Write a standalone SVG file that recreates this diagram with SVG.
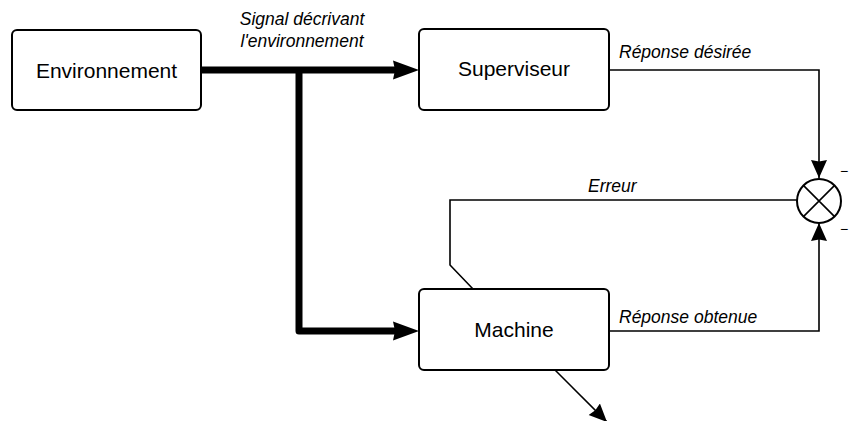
<svg xmlns="http://www.w3.org/2000/svg" width="849" height="421" viewBox="0 0 849 421">
  <style>
    .box { fill: #ffffff; stroke: #000000; stroke-width: 2; }
    .label { font-family: "Liberation Sans", Arial, sans-serif; font-size: 21px; fill: #000000; text-anchor: middle; }
    .note { font-family: "Liberation Sans", Arial, sans-serif; font-size: 17.5px; font-style: italic; fill: #000000; }
    .sign { font-family: "Liberation Sans", Arial, sans-serif; font-size: 14px; fill: #000000; }
    .thin { fill: none; stroke: #000000; stroke-width: 1.6; }
    .thick { fill: none; stroke: #000000; stroke-width: 7; stroke-linejoin: round; }
    .head { fill: #000000; stroke: none; }
  </style>
  <defs>
    <marker id="arrowThin" markerUnits="userSpaceOnUse" viewBox="0 0 18 18" refX="18" refY="9" markerWidth="18" markerHeight="18" orient="auto">
      <path class="head" d="M0,1 L18,9 L0,17 L1.5,9 Z"/>
    </marker>
    <!-- thick arrowhead: its tip lies 19px past the end of the line -->
    <marker id="arrowThick" markerUnits="userSpaceOnUse" viewBox="0 0 26 22" refX="7" refY="11" markerWidth="26" markerHeight="22" orient="auto">
      <path class="head" d="M0,1.5 L26,11 L0,20.5 L2,11 Z"/>
    </marker>
  </defs>

  <!-- connectors -->
  <g id="connectors">
    <path class="thick" d="M201,70 L400,70" marker-end="url(#arrowThick)"/>
    <path class="thick" d="M299,70 L299,331 L400,331" marker-end="url(#arrowThick)"/>
    <path class="thin" d="M609,70 L819,70 L819,178" marker-end="url(#arrowThin)"/>
    <path class="thin" d="M609,331 L819,331 L819,223" marker-end="url(#arrowThin)"/>
    <path class="thin" d="M797,200 L450,200 L450,265 L473,289"/>
    <path class="thin" d="M555,370 L607,422" marker-end="url(#arrowThin)"/>
  </g>

  <!-- connector labels -->
  <g id="labels">
    <text class="note" x="302" y="25" text-anchor="middle">Signal décrivant</text>
    <text class="note" x="302" y="47" text-anchor="middle">l'environnement</text>
    <text class="note" x="619" y="58">Réponse désirée</text>
    <text class="note" x="588" y="192">Erreur</text>
    <text class="note" x="619" y="323">Réponse obtenue</text>
  </g>

  <g id="environnement">
    <rect class="box" x="12" y="30" width="189" height="80" rx="5"/>
    <text class="label" x="106.5" y="78">Environnement</text>
  </g>

  <g id="superviseur">
    <rect class="box" x="419" y="29" width="190" height="81" rx="5"/>
    <text class="label" x="514" y="76">Superviseur</text>
  </g>

  <g id="machine">
    <rect class="box" x="419" y="289" width="190" height="81" rx="5"/>
    <text class="label" x="514" y="337">Machine</text>
  </g>

  <g id="comparateur">
    <circle cx="819" cy="201" r="22" fill="#ffffff" stroke="#000000" stroke-width="2"/>
    <path class="thin" d="M803.4,185.4 L834.6,216.6 M834.6,185.4 L803.4,216.6" stroke-width="1.8"/>
    <text class="sign" x="840" y="175.5">−</text>
    <text class="sign" x="840" y="234">−</text>
  </g>
</svg>
